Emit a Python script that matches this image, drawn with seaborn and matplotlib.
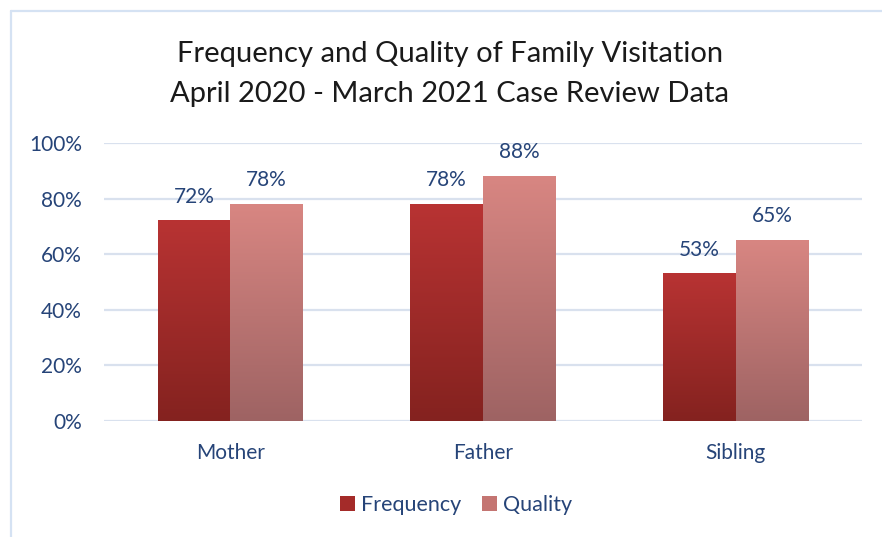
import numpy as np
import pandas as pd
import seaborn as sns
import matplotlib
matplotlib.use("Agg")
import matplotlib.pyplot as plt
from matplotlib.colors import LinearSegmentedColormap
from matplotlib.lines import Line2D
from matplotlib.patches import Patch

categories = ["Mother", "Father", "Sibling"]
series = ["Frequency", "Quality"]
frequency = [0.72, 0.78, 0.53]
quality = [0.78, 0.88, 0.65]
yticks = [0, 0.2, 0.4, 0.6, 0.8, 1.0]
ytick_labels = ["0%", "20%", "40%", "60%", "80%", "100%"]
title_lines = ["Frequency and Quality of Family Visitation",
               "April 2020 - March 2021 Case Review Data"]

df = pd.DataFrame({
    "Category": categories * 2,
    "Series": [series[0]] * 3 + [series[1]] * 3,
    "Value": frequency + quality,
})

sns.set_theme(style="white")
plt.rcParams["font.family"] = ["Lato", "DejaVu Sans"]

TXT = "#264478"
GRID = "#D9E1EE"
top_cols = {"Frequency": "#B83333", "Quality": "#D88682"}
bot_cols = {"Frequency": "#84221F", "Quality": "#9E6363"}

fig = plt.figure(figsize=(8.82, 5.37), dpi=100)
ax = fig.add_axes([104 / 882, 1 - 421 / 537, (862 - 104) / 882, (421 - 143) / 537])

sns.barplot(data=df, x="Category", y="Value", hue="Series", order=categories,
            hue_order=series, palette=[top_cols[s] for s in series],
            width=0.574, ax=ax, legend=False, errorbar=None, saturation=1)

grad = np.linspace(0, 1, 256).reshape(-1, 1)
for cont, s in zip(ax.containers, series):
    cmap = LinearSegmentedColormap.from_list(s, [bot_cols[s], top_cols[s]])
    for p in cont:
        x0, y0 = p.get_x(), p.get_y()
        w, h = p.get_width(), p.get_height()
        ax.imshow(grad, extent=[x0, x0 + w, y0, y0 + h], origin="lower",
                  aspect="auto", cmap=cmap, zorder=3)
        p.set_alpha(0)
    ax.bar_label(cont, labels=[f"{v*100:.0f}%" for v in cont.datavalues],
                 padding=10, color=TXT, fontsize=15)

ax.set_xlim(-0.5, 2.5)
ax.set_ylim(0, 1.0)
ax.set_yticks(yticks)
ax.set_yticklabels(ytick_labels)
ax.yaxis.grid(True, color=GRID, linewidth=1.6)
ax.set_axisbelow(True)
for sp in ax.spines.values():
    sp.set_visible(False)
ax.tick_params(axis="y", colors=TXT, labelsize=15, length=0, pad=16)
ax.tick_params(axis="x", colors=TXT, labelsize=15, length=0, pad=16)
ax.set_xlabel("")
ax.set_ylabel("")

for line, yb in zip(title_lines, [62, 102]):
    fig.text(450 / 882, 1 - yb / 537, line, ha="center", va="baseline",
             fontsize=21, color="#1a1a1a")

handles = [Patch(facecolor="#A42B29", edgecolor="none"),
           Patch(facecolor="#C47572", edgecolor="none")]
fig.legend(handles, series, loc="center", bbox_to_anchor=(456 / 882, 1 - 505 / 537),
           ncol=2, frameon=False, fontsize=15.5, labelcolor=TXT,
           handlelength=0.7, handleheight=0.7, handletextpad=0.3, columnspacing=0.95)

BORDER = "#D5E2F3"
fig.add_artist(Line2D([10.5 / 882, 10.5 / 882], [0, 1 - 11 / 537], transform=fig.transFigure,
                      color=BORDER, linewidth=1.6))
fig.add_artist(Line2D([10.5 / 882, 1], [1 - 11 / 537, 1 - 11 / 537], transform=fig.transFigure,
                      color=BORDER, linewidth=1.6))

fig.savefig("out.png", dpi=100)
